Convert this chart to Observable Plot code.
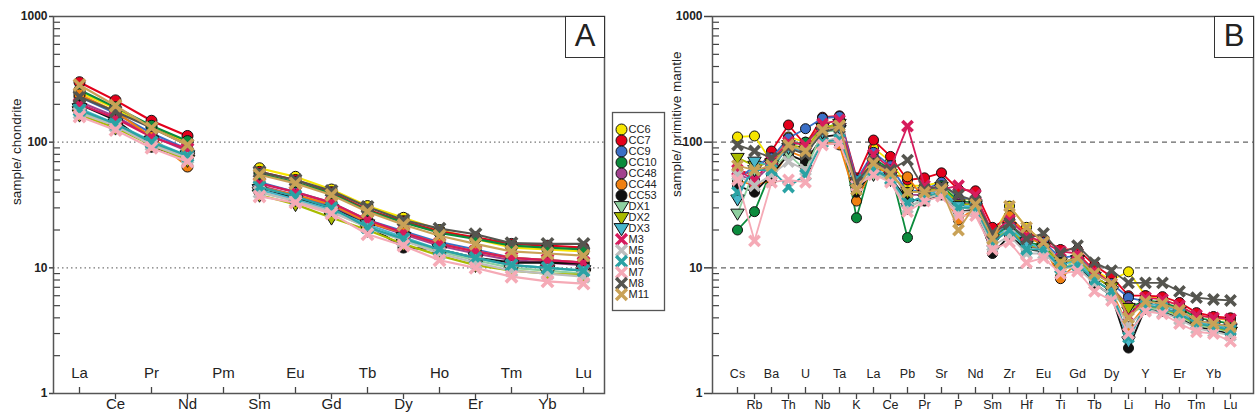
<!DOCTYPE html>
<html><head><meta charset="utf-8">
<script src="https://cdn.jsdelivr.net/npm/d3@7"></script>
<script src="https://cdn.jsdelivr.net/npm/@observablehq/plot@0.6"></script>
<style>
body{margin:0;background:#fff;font-family:"Liberation Sans",Arial,sans-serif;}
#wrap{position:relative;width:1260px;height:420px;overflow:hidden;background:#fff;}
#wrap svg{position:absolute;overflow:visible;}
.tag{position:absolute;border:1.5px solid #333;box-sizing:border-box;font-size:31px;line-height:38px;text-align:center;color:#222;background:#fff;font-family:"Liberation Sans",Arial,sans-serif;}
</style></head><body><div id="wrap"></div>
<script>
// ---- categories ----
const reeElements = ["La","Ce","Pr","Nd","Pm","Sm","Eu","Gd","Tb","Dy","Ho","Er","Tm","Yb","Lu"];
const spiderElements = ["Cs","Rb","Ba","Th","U","Nb","Ta","K","La","Ce","Pb","Pr","Sr","P","Nd","Sm","Zr","Hf","Eu","Ti","Gd","Tb","Dy","Li","Y","Ho","Er","Tm","Yb","Lu"];
const samples = ["CC6","CC7","CC9","CC10","CC48","CC44","CC53","DX1","DX2","DX3","M3","M5","M6","M7","M8","M11"];
const yTicks = [1,10,100,1000];
const yMinor = [2,3,4,5,6,7,8,9,20,30,40,50,60,70,80,90,200,300,400,500,600,700,800,900];
const refLines = [10,100];

// ---- panel A: sample / chondrite (Pm not analysed) ----
const reeCC6  = [250,185,130,100,null,62,53,42,31,25,20,17,14.5,14,13.5];
const reeCC7  = [300,215,148,112,null,58,50,40,29,23.5,19.5,17.5,15.5,15,14.5];
const reeCC9  = [230,170,118,88,null,48,40,33,24,19.5,16,14,12,11.5,11];
const reeCC10 = [260,190,135,102,null,56,48,39,28.5,23,19,17,15,14.5,14];
const reeCC48 = [210,160,112,85,null,45,38,31,23,18.5,15,13,11.5,11,10.5];
const reeCC44 = [240,175,110,64,null,44,38,32,23,19,15.5,13.5,12,11.5,11];
const reeCC53 = [200,150,92,75,null,42,36,30,22,14.5,14,12,11,11,10.8];
const reeDX1  = [175,135,98,75,null,40,34,28,21,16.5,13.5,11.5,10,9.5,9];
const reeDX2  = [165,130,95,72,null,38,32,25,20,15.5,12.5,10.5,9.5,9,8.8];
const reeDX3  = [185,140,102,78,null,42,35,29,22,17.5,14,12,10.5,10,9.5];
const reeM3   = [200,155,110,88,null,47,40,33,24,19,15.5,13.5,12,11.5,11];
const reeM5   = [170,135,95,75,null,40,34,28,21,16.5,13,11,9.5,9,8.5];
const reeM6   = [180,140,100,78,null,44,37,30,21,17,14,12,10.5,10,9.5];
const reeM7   = [160,125,90,70,null,37,33,27,18.5,15,11.5,10,8.5,7.8,7.5];
const reeM8   = [230,175,130,95,null,58,50,41,30.5,24,20.5,18.5,15.7,15.5,15.5];
const reeM11  = [285,195,130,95,null,55,47,38,28,22,18,15.5,13.5,13,12.5];

// ---- panel B: sample / primitive mantle ----
const pmCC6  = [110,112,70,110,100,140,150,40,90,70,45,45,48,35,35,18,31,21,16,8.5,13,9.5,8,9.3,6,5.6,5,4.2,4,3.8];
const pmCC7  = [60,55,85,137,95,158,162,52,104,77,50,52,57,42,41,21,25,19,17,14,14,10.5,8.5,6,6,5.9,5.3,4.4,4.1,4];
const pmCC9  = [50,65,75,108,128,155,160,50,83,65,40,42,48,36,35,18,22,17,16,12,12.5,9,7.5,5.8,5.4,5.2,4.6,3.8,3.6,3.4];
const pmCC10 = [20,28,60,95,100,130,140,25,75,60,17.4,40,45,34,33,17,22,16,15,11,12,8.5,7,4.8,5.5,5.3,4.8,4,3.8,3.6];
const pmCC48 = [55,50,65,90,85,125,135,45,70,58,38,38,42,33,32,16,20,15,14,11,11.5,8.5,7,5,5,4.8,4.3,3.6,3.4,3.3];
const pmCC44 = [50,45,50,85,75,100,95,34,65,55,53,35,40,24,30,17,26,18,15,8.2,11,8,6.5,3.4,5,4.6,4.2,3.5,3.3,3.2];
const pmCC53 = [45,40,55,80,70,110,115,40,60,52,35,34,38,28,29,13,18,14,13.5,10,10.5,7.5,6,2.3,4.8,4.5,4,3.4,3.2,3];
const pmDX1  = [27,60,62,80,60,120,125,45,55,50,30,35,40,30,30,16,20,14,14,10,11,8,6.5,4.5,4.8,4.6,4.1,3.5,3.3,3.1];
const pmDX2  = [75,65,68,95,90,130,140,42,68,56,40,40,44,32,32,16.5,21,15,14.5,11,11.5,8.5,7,4.8,5,4.8,4.2,3.6,3.4,3.1];
const pmDX3  = [35,70,65,90,85,120,130,48,62,53,32,38,42,31,31,17,21,16,14,10.5,11.5,8,6.5,2.6,5.2,5,4.5,3.7,3.5,3.3];
const pmM3   = [60,50,72,100,95,140,150,48,80,62,134,45,42,45,38,19,24,18,16,13.5,13,9.5,7.5,4.1,5.8,5.6,5,4.2,4,3.9];
const pmM5   = [55,45,55,70,60,100,110,45,58,50,30,36,38,28,28,15,18,13,13,10,10,7.5,6,3.5,4.6,4.4,3.9,3.3,3.1,2.9];
const pmM6   = [40,60,60,44,55,100,105,50,60,51,33,37,40,30,30,16,20,14,14,10,10.5,8,6.5,2.8,5,4.8,4.3,3.6,3.4,3.2];
const pmM7   = [50,16.4,48,50,48,95,98,45,55,48,28,34,37,26,26,14,16,11,12,9,9.4,6.5,5.5,3,4.5,4.3,3.6,3.1,3,2.6];
const pmM8   = [95,85,75,90,80,120,130,48,70,60,72,42,45,38,34,19,22.5,17,18.8,13,15,11,9.5,7.6,7.6,7.6,6.5,5.8,5.6,5.5];
const pmM11  = [65,60,65,95,85,125,135,42,68,56,40,40,42,20,32,17,31,21,16,11,12,9,7.5,4,5.4,5.2,4.6,3.8,3.6,3.4];

const reeSeries = [reeCC6,reeCC7,reeCC9,reeCC10,reeCC48,reeCC44,reeCC53,reeDX1,reeDX2,reeDX3,reeM3,reeM5,reeM6,reeM7,reeM8,reeM11];
const pmSeries  = [pmCC6,pmCC7,pmCC9,pmCC10,pmCC48,pmCC44,pmCC53,pmDX1,pmDX2,pmDX3,pmM3,pmM5,pmM6,pmM7,pmM8,pmM11];

// ---- styles ----
const palette = {
  CC6:"#f6e500", CC7:"#e3001b", CC9:"#3b6fc6", CC10:"#0b8b3c", CC48:"#a2418e", CC44:"#f08010", CC53:"#111111",
  DX1:"#8fd0a0", DX2:"#a9bb00", DX3:"#48b6ca",
  M3:"#d61b5c", M5:"#bdbdbd", M6:"#2aa2a4", M7:"#f5aab6", M8:"#55554f", M11:"#c9a257"
};
const shapeOf = s => s.startsWith("CC") ? "circle" : s.startsWith("DX") ? "triangle" : "cross";
const triangleDown = {
  draw(ctx, size) {
    const s3 = Math.sqrt(3), h = Math.sqrt(size / (s3 * 3));
    ctx.moveTo(0, 2 * h * 0.85);
    ctx.lineTo(s3 * h, -h * 1.15);
    ctx.lineTo(-s3 * h, -h * 1.15);
    ctx.closePath();
  }
};

function sampleMarks(rows, name, r, lw) {
  const c = palette[name];
  const shape = shapeOf(name);
  const marks = [Plot.line(rows, {x: "el", y: "v", stroke: c, strokeWidth: lw})];
  if (shape === "circle") marks.push(Plot.dot(rows, {x: "el", y: "v", r, symbol: "circle", fill: c, stroke: "#111", strokeWidth: 1}));
  else if (shape === "triangle") marks.push(Plot.dot(rows, {x: "el", y: "v", r, symbol: triangleDown, fill: c, stroke: "#111", strokeWidth: 1}));
  else marks.push(Plot.dot(rows, {x: "el", y: "v", r: r * 0.95, symbol: "times", stroke: c, strokeWidth: 3.6}));
  return marks;
}

function panel(o) {
  const even = o.elements.filter((d, i) => i % 2 === 0);
  const odd = o.elements.filter((d, i) => i % 2 === 1);
  const marks = [
    Plot.ruleY(refLines, {stroke: o.gridColor, strokeWidth: o.gridWidth, strokeDasharray: o.dash}),
    Plot.axisY(yMinor, {anchor: "left", tickSize: 7, dx: 7, text: null, stroke: "#444", strokeWidth: 1.2}),
    Plot.axisY(yTicks, {anchor: "left", tickSize: o.majorTick, tickPadding: 2, tickFormat: d => String(d), fontSize: 12, fontWeight: "bold", fill: "#222", stroke: "#444", strokeWidth: 1.5}),
    Plot.axisX(even, {anchor: "bottom", tickSize: 6, dy: -6, text: null, stroke: "#444", strokeWidth: 1.3}),
    Plot.axisX(odd, {anchor: "bottom", tickSize: 6, text: null, stroke: "#444", strokeWidth: 1.3}),
    Plot.text(even, {x: d => d, frameAnchor: "bottom", dy: -16, fontSize: o.fs, fill: "#222"}),
    Plot.text(odd, {x: d => d, frameAnchor: "bottom", dy: 15, fontSize: o.fs, fill: "#222"}),
    Plot.text([o.ylabel], {frameAnchor: "left", dx: o.ylabelDx, dy: o.ylabelDy, rotate: -90, fontSize: o.ylabelFs, fill: "#222"})
  ];
  samples.forEach((s, i) => {
    const rows = o.elements.map((el, j) => ({el, v: o.series[i][j] == null ? NaN : o.series[i][j]}));
    marks.push(...sampleMarks(rows, s, o.r, o.lw));
  });
  marks.push(Plot.frame({stroke: "#555", strokeWidth: 1.5}));
  return Plot.plot({
    width: o.width, height: 420,
    marginLeft: o.ml, marginRight: o.mr, marginTop: 16, marginBottom: 27,
    style: {fontFamily: '"Liberation Sans", Arial, sans-serif', background: "transparent"},
    x: {type: "point", domain: o.elements, padding: o.padding, align: o.align, label: null, axis: null},
    y: {type: "log", domain: [1, 1000], label: null, axis: null},
    marks
  });
}

const wrap = document.getElementById("wrap");

const svgA = panel({elements: reeElements, series: reeSeries, width: 620, ml: 53, mr: 16, padding: 0.6, align: 0.55,
  fs: 15, ylabel: "sample/ chondrite", ylabelDx: -37, ylabelDy: 0, ylabelFs: 13.5, r: 5.5, lw: 2.2,
  majorTick: 4, dash: "1.5,3", gridColor: "#777", gridWidth: 1.2});
svgA.style.left = "0px"; svgA.style.top = "0px";
wrap.appendChild(svgA);

const svgB = panel({elements: spiderElements, series: pmSeries, width: 630, ml: 82, mr: 7, padding: 1.12, align: 0.52,
  fs: 12.5, ylabel: "sample/ primitive mantle", ylabelDx: -36, ylabelDy: -8, ylabelFs: 13.5, r: 5, lw: 1.8,
  majorTick: 8, dash: "5,4", gridColor: "#666", gridWidth: 1.4});
svgB.style.left = "630px"; svgB.style.top = "0px";
wrap.appendChild(svgB);

// legend
const legendRows = samples.map(s => ({s, shape: shapeOf(s)}));
const legend = Plot.plot({
  width: 52, height: 198, margin: 0,
  style: {fontFamily: '"Liberation Sans", Arial, sans-serif', background: "#fff"},
  y: {type: "point", domain: samples, range: [9, 190], axis: null},
  marks: [
    Plot.dot(legendRows.filter(d => d.shape === "circle"), {y: "s", frameAnchor: "left", dx: 9, r: 5.5, symbol: "circle", fill: d => palette[d.s], stroke: "#111", strokeWidth: 1}),
    Plot.dot(legendRows.filter(d => d.shape === "triangle"), {y: "s", frameAnchor: "left", dx: 9, r: 5.5, symbol: triangleDown, fill: d => palette[d.s], stroke: "#111", strokeWidth: 1}),
    Plot.dot(legendRows.filter(d => d.shape === "cross"), {y: "s", frameAnchor: "left", dx: 9, r: 5, symbol: "times", stroke: d => palette[d.s], strokeWidth: 3.4}),
    Plot.text(legendRows, {y: "s", frameAnchor: "left", dx: 16, text: "s", textAnchor: "start", fontSize: 11, fill: "#222"}),
    Plot.frame({stroke: "#555", strokeWidth: 1.3})
  ]
});
legend.style.left = "612px"; legend.style.top = "112px";
wrap.appendChild(legend);

// panel tags
[["A", 565], ["B", 1214]].forEach(([t, x]) => {
  const d = document.createElement("div");
  d.className = "tag"; d.textContent = t;
  d.style.left = x + "px"; d.style.top = "16px"; d.style.width = "40px"; d.style.height = "42px";
  wrap.appendChild(d);
});
</script></body></html>
